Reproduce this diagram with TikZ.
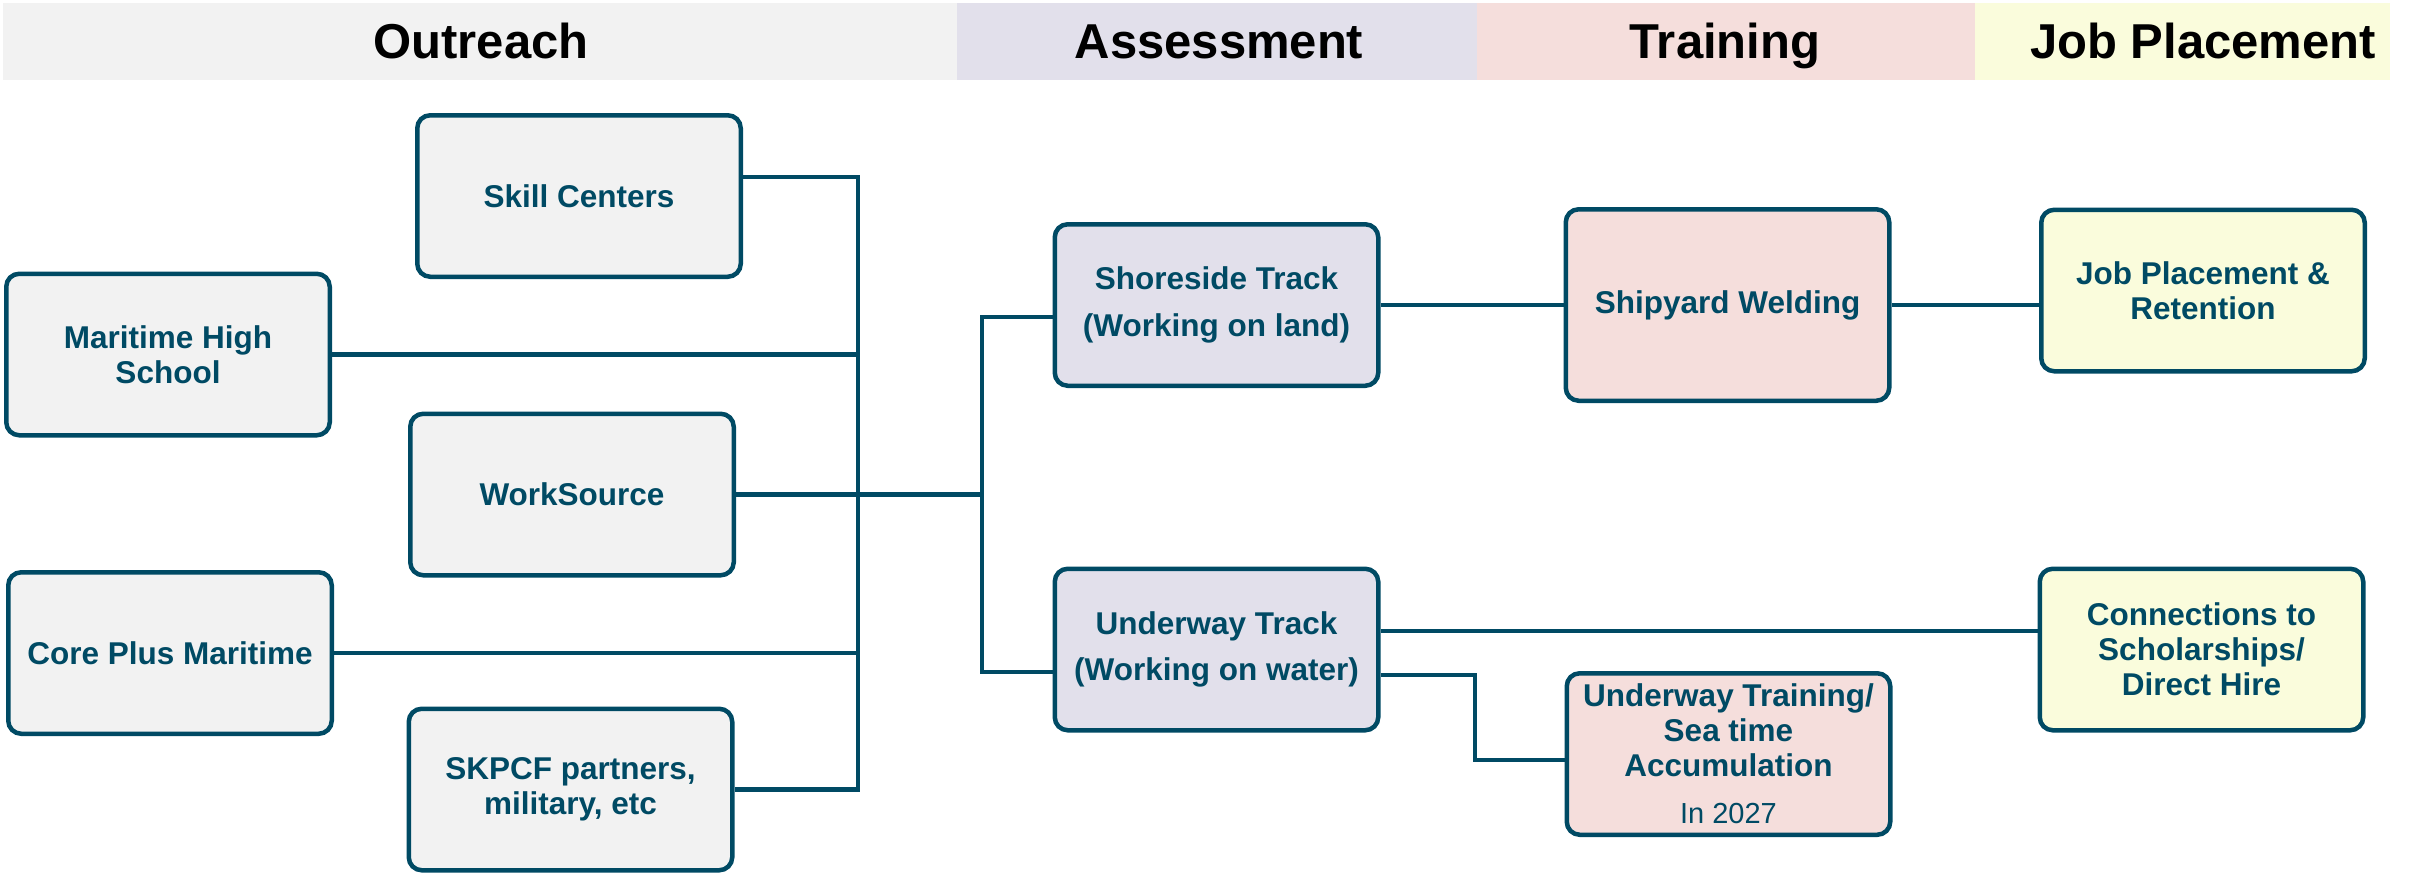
\documentclass[tikz,border=0pt]{standalone}
\usepackage{fontspec}
\setmainfont{Liberation Sans}
\usetikzlibrary{calc}
\definecolor{teal}{RGB}{0,74,100}
\definecolor{outfill}{HTML}{F2F2F2}
\definecolor{assfill}{HTML}{E2E0EB}
\definecolor{trnfill}{HTML}{F5DEDC}
\definecolor{jobfill}{HTML}{FAFCDC}
\tikzset{
  box/.style={draw=teal, line width=2.25pt, rounded corners=6.5pt, align=center,
    text=teal, font=\fontsize{15.75}{17.5}\selectfont\bfseries,
    minimum width=161.75pt, minimum height=80.75pt, inner sep=0pt},
  conn/.style={draw=teal, line width=2.3pt, line join=miter},
  title/.style={font=\fontsize{24.5}{28}\selectfont\bfseries, text=black, inner sep=0pt, anchor=base}
}
\begin{document}
\begin{tikzpicture}[x=0.5pt,y=-0.5pt]
\useasboundingbox (0,0) rectangle (2433,880);
% header bands
\fill[outfill] (3,3) rectangle (957,80);
\fill[assfill] (957,3) rectangle (1477,80);
\fill[trnfill] (1477,3) rectangle (1975,80);
\fill[jobfill] (1975,3) rectangle (2390,80);
\node[title] (tout) at (481,58) {Outreach};
\node[title] (tass) at (1219,58) {Assessment};
\node[title] (ttrn) at (1725,58) {Training};
\node[title] (tjob) at (2203,58) {Job Placement};
% outreach boxes
\node[box, fill=outfill] (skill) at (579,196) {Skill Centers};
\node[box, fill=outfill] (mhs) at (168,354.5) {Maritime High\\School};
\node[box, fill=outfill] (ws) at (572,494.5) {WorkSource};
\node[box, fill=outfill] (core) at (170,653) {Core Plus Maritime};
\node[box, fill=outfill] (skpcf) at (570.5,789.5) {SKPCF partners,\\military, etc};
% assessment
\node[box, fill=assfill, font=\fontsize{15.75}{23.3}\selectfont\bfseries] (shore) at (1216.5,305) {Shoreside Track\\(Working on land)};
\node[box, fill=assfill, font=\fontsize{15.75}{23.3}\selectfont\bfseries] (under) at (1216.5,649.5) {Underway Track\\(Working on water)};
% training
\node[box, fill=trnfill, minimum height=95.75pt] (weld) at (1727.5,305) {Shipyard Welding};
\node[box, fill=trnfill] (uwt) at (1728.5,754) {};
\node[text=teal, align=center, font=\fontsize{15.75}{17.5}\selectfont\bfseries, anchor=north, inner sep=0pt] (uwtt) at (1728.5,683) {Underway Training/\\Sea time\\Accumulation};
\node[text=teal, font=\fontsize{14.5}{16}\selectfont, anchor=base, inner sep=0pt] (uwty) at (1728.5,823) {In 2027};
% job placement
\node[box, fill=jobfill] (job) at (2203,290.5) {Job Placement \&\\Retention};
\node[box, fill=jobfill] (conn) at (2201.5,649.5) {Connections to\\Scholarships/\\Direct Hire};
% buses
\coordinate (b1t) at (858,177);
\coordinate (b1b) at (858,789.5);
\coordinate (b2t) at (982,317);
\coordinate (b2b) at (982,672);
\coordinate (u1) at (1380,631);
\coordinate (u2) at (1475,675);
\coordinate (u3) at (1475,760);
\draw[conn] (skill.east |- b1t) -- (b1t) -- (b1b) -- (skpcf.east |- b1b);
\draw[conn] (mhs.east) -- (mhs.east -| b1t);
\draw[conn] (core.east) -- (core.east -| b1t);
\draw[conn] (ws.east) -- (ws.east -| b2t);
\draw[conn] (shore.west |- b2t) -- (b2t) -- (b2b) -- (under.west |- b2b);
\draw[conn] (shore.east) -- (weld.west);
\draw[conn] (weld.east) -- (weld.east -| job.west);
\draw[conn] (under.east |- u1) -- (u1 -| conn.west);
\draw[conn] (under.east |- u2) -- (u2) -- (u3) -- (u3 -| uwt.west);
\end{tikzpicture}
\end{document}
